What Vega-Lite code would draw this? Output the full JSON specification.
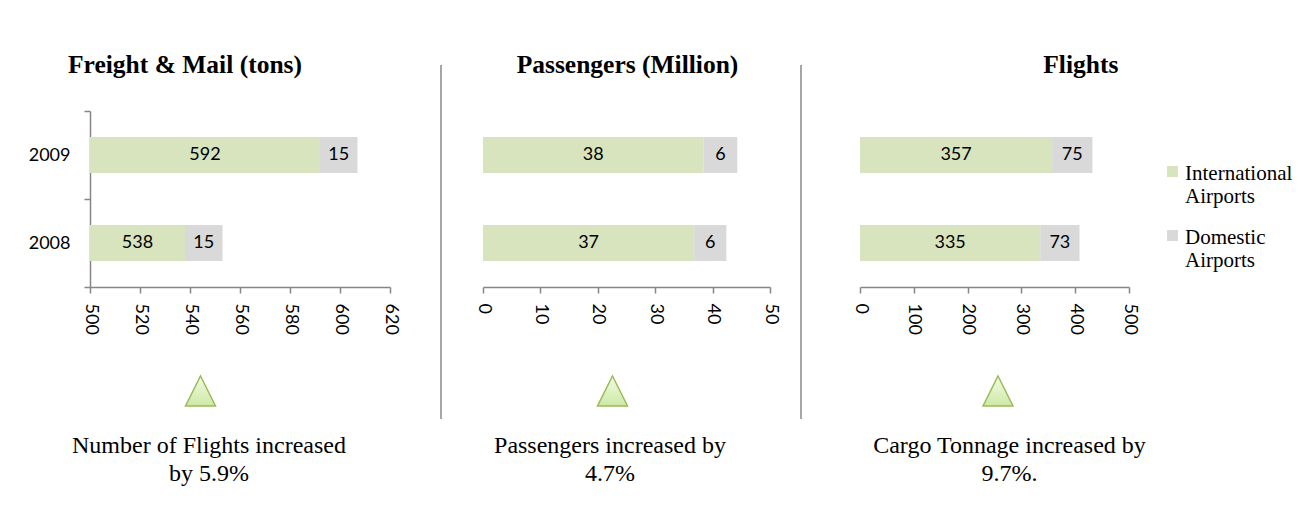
{
  "$schema": "https://vega.github.io/schema/vega-lite/v6.json",
  "background": "white",
  "padding": {"left": 28, "top": 53, "right": 5, "bottom": 5},
  "bounds": "full",
  "spacing": 21,
  "config": {
    "view": {"stroke": null},
    "axis": {
      "domainColor": "#868686",
      "tickColor": "#868686",
      "domainWidth": 1.5,
      "tickWidth": 1.5,
      "labelFont": "Lato",
      "labelFontSize": 18,
      "labelColor": "#000000",
      "grid": false,
      "title": null
    }
  },
  "datasets": {
    "freight": [
      {"year": "2009", "type": "International Airports", "value": 592},
      {"year": "2009", "type": "Domestic Airports", "value": 15},
      {"year": "2008", "type": "International Airports", "value": 538},
      {"year": "2008", "type": "Domestic Airports", "value": 15}
    ],
    "passengers": [
      {"year": "2009", "type": "International Airports", "value": 38.4},
      {"year": "2009", "type": "Domestic Airports", "value": 5.9},
      {"year": "2008", "type": "International Airports", "value": 36.8},
      {"year": "2008", "type": "Domestic Airports", "value": 5.6}
    ],
    "flights": [
      {"year": "2009", "type": "International Airports", "value": 357},
      {"year": "2009", "type": "Domestic Airports", "value": 75},
      {"year": "2008", "type": "International Airports", "value": 335},
      {"year": "2008", "type": "Domestic Airports", "value": 73}
    ]
  },
  "resolve": {"scale": {"x": "independent", "y": "independent", "color": "shared"}},
  "hconcat": [
    {
      "bounds": "flush",
      "spacing": 30,
      "vconcat": [
        {
          "width": 329,
          "height": 16,
          "data": {"values": [{"title": "Freight & Mail (tons)"}]},
          "mark": {"type": "text", "font": "Liberation Serif", "fontSize": 25.5, "fontWeight": "bold", "baseline": "alphabetic", "align": "center", "dx": -69.5, "color": "#000000"},
          "encoding": {"text": {"field": "title"}}
        },
        {
          "width": 300,
          "height": 176,
          "data": {"name": "freight"},
          "layer": [
            {
              "mark": {"type": "bar", "height": {"band": 0.41}},
              "encoding": {
                "y": {"field": "year", "type": "nominal", "scale": {"domain": ["2009", "2008"], "paddingInner": 0, "paddingOuter": 0}, "axis": {"title": null, "tickBand": "extent", "tickSize": 6, "labelPadding": 14}},
                "x": {"field": "value", "type": "quantitative", "stack": "zero", "scale": {"domain": [500, 620], "clamp": true, "nice": false, "zero": false}, "axis": {"title": null, "values": [500, 520, 540, 560, 580, 600, 620], "labelAngle": 90, "tickSize": 6, "labelPadding": 10}},
                "color": {"field": "type", "type": "nominal", "scale": {"domain": ["International Airports", "Domestic Airports"], "range": ["#d7e4bd", "#d9d9d9"]},
                  "legend": {"orient": "none", "legendX": 1072, "legendY": 104, "title": null, "padding": 0, "symbolType": "M-1,-2.45H1V-0.45H-1Z", "symbolSize": 121, "symbolStrokeWidth": 0, "symbolOpacity": 1, "labelFont": "Liberation Serif", "labelFontSize": 21, "labelColor": "#000000", "labelBaseline": "alphabetic", "labelOffset": 2, "labelLimit": 300, "rowPadding": 19,
                    "labelExpr": "datum.label == 'International Airports' ? ['\u2002International', 'Airports'] : ['\u2002Domestic', 'Airports']"}},
                "order": {"field": "type", "sort": "descending"}
              }
            },
            {
              "mark": {"type": "text", "font": "Lato", "fontSize": 18, "color": "#000000"},
              "encoding": {
                "y": {"field": "year", "type": "nominal"},
                "x": {"field": "value", "type": "quantitative", "stack": "zero", "bandPosition": 0.5, "scale": {"domain": [500, 620], "clamp": true, "nice": false, "zero": false}, "axis": null},
                "detail": {"field": "type"},
                "order": {"field": "type", "sort": "descending"},
                "text": {"condition": {"test": "datum.type == 'Domestic Airports'", "field": "value", "type": "quantitative", "format": ".0f"}, "value": ""}
              }
            },
            {
              "transform": [{"filter": "datum.type == 'International Airports'"}],
              "mark": {"type": "text", "font": "Lato", "fontSize": 18, "color": "#000000"},
              "encoding": {
                "y": {"field": "year", "type": "nominal"},
                "x": {"field": "value", "type": "quantitative", "stack": null, "scale": {"domain": [500, 620], "range": [0, 150], "nice": false, "zero": false}, "axis": null},
                "text": {"field": "value", "type": "quantitative", "format": ".0f"}
              }
            }
          ],
          "resolve": {"scale": {"x": "independent"}}
        },
        {
          "width": 221,
          "height": 148,
          "data": {"values": [{"caption": "Number of Flights increased\nby 5.9%"}]},
          "layer": [
            {
              "mark": {"type": "point", "shape": "M0,-1L1,1L-1,1Z", "size": 900, "filled": true, "opacity": 1,
                "fill": {"gradient": "linear", "x1": 0, "y1": 0, "x2": 0, "y2": 1, "stops": [{"offset": 0, "color": "#f2fbe6"}, {"offset": 1, "color": "#cde9a3"}]},
                "stroke": "#9bbb59", "strokeWidth": 1.5},
              "encoding": {}
            },
            {
              "mark": {"type": "text", "font": "Liberation Serif", "fontSize": 24, "lineBreak": "\n", "lineHeight": 28, "baseline": "alphabetic", "align": "center", "dy": 62, "dx": 8.5, "color": "#000000"},
              "encoding": {"text": {"field": "caption"}}
            }
          ]
        }
      ]
    },
    {
      "width": 12,
      "height": 354,
      "data": {"values": [{"sep": 1}]},
      "mark": {"type": "rule", "color": "#a6a6a6", "strokeWidth": 2},
      "encoding": {"x": {"datum": 0, "type": "quantitative", "scale": {"domain": [0, 1]}, "axis": null}}
    },
    {
      "bounds": "flush",
      "spacing": 30,
      "vconcat": [
        {
          "width": 287,
          "height": 16,
          "data": {"values": [{"title": "Passengers (Million)"}]},
          "mark": {"type": "text", "font": "Liberation Serif", "fontSize": 25.5, "fontWeight": "bold", "baseline": "alphabetic", "align": "center", "dx": 1, "color": "#000000"},
          "encoding": {"text": {"field": "title"}}
        },
        {
          "width": 287,
          "height": 176,
          "data": {"name": "passengers"},
          "layer": [
            {
              "mark": {"type": "bar", "height": {"band": 0.41}},
              "encoding": {
                "y": {"field": "year", "type": "nominal", "scale": {"domain": ["2009", "2008"], "paddingInner": 0, "paddingOuter": 0}, "axis": null},
                "x": {"field": "value", "type": "quantitative", "stack": "zero", "scale": {"domain": [0, 50], "nice": false}, "axis": {"title": null, "values": [0, 10, 20, 30, 40, 50], "labelAngle": 90, "tickSize": 6, "labelPadding": 10}},
                "color": {"field": "type", "type": "nominal", "scale": {"domain": ["International Airports", "Domestic Airports"], "range": ["#d7e4bd", "#d9d9d9"]}},
                "order": {"field": "type", "sort": "descending"}
              }
            },
            {
              "mark": {"type": "text", "font": "Lato", "fontSize": 18, "color": "#000000"},
              "encoding": {
                "y": {"field": "year", "type": "nominal"},
                "x": {"field": "value", "type": "quantitative", "stack": "zero", "bandPosition": 0.5},
                "detail": {"field": "type"},
                "order": {"field": "type", "sort": "descending"},
                "text": {"field": "value", "type": "quantitative", "format": ".0f"}
              }
            }
          ]
        },
        {
          "width": 259,
          "height": 148,
          "data": {"values": [{"caption": "Passengers increased by\n4.7%"}]},
          "layer": [
            {
              "mark": {"type": "point", "shape": "M0,-1L1,1L-1,1Z", "size": 900, "filled": true, "opacity": 1,
                "fill": {"gradient": "linear", "x1": 0, "y1": 0, "x2": 0, "y2": 1, "stops": [{"offset": 0, "color": "#f2fbe6"}, {"offset": 1, "color": "#cde9a3"}]},
                "stroke": "#9bbb59", "strokeWidth": 1.5},
              "encoding": {}
            },
            {
              "mark": {"type": "text", "font": "Liberation Serif", "fontSize": 24, "lineBreak": "\n", "lineHeight": 28, "baseline": "alphabetic", "align": "center", "dy": 62, "dx": -2.5, "color": "#000000"},
              "encoding": {"text": {"field": "caption"}}
            }
          ]
        }
      ]
    },
    {
      "width": 29,
      "height": 354,
      "data": {"values": [{"sep": 2}]},
      "mark": {"type": "rule", "color": "#a6a6a6", "strokeWidth": 2},
      "encoding": {"x": {"datum": 0, "type": "quantitative", "scale": {"domain": [0, 1]}, "axis": null}}
    },
    {
      "bounds": "flush",
      "spacing": 30,
      "vconcat": [
        {
          "width": 269,
          "height": 16,
          "data": {"values": [{"title": "Flights"}]},
          "mark": {"type": "text", "font": "Liberation Serif", "fontSize": 25.5, "fontWeight": "bold", "baseline": "alphabetic", "align": "center", "dx": 86.3, "color": "#000000"},
          "encoding": {"text": {"field": "title"}}
        },
        {
          "width": 269,
          "height": 176,
          "data": {"name": "flights"},
          "layer": [
            {
              "mark": {"type": "bar", "height": {"band": 0.41}},
              "encoding": {
                "y": {"field": "year", "type": "nominal", "scale": {"domain": ["2009", "2008"], "paddingInner": 0, "paddingOuter": 0}, "axis": null},
                "x": {"field": "value", "type": "quantitative", "stack": "zero", "scale": {"domain": [0, 500], "nice": false}, "axis": {"title": null, "values": [0, 100, 200, 300, 400, 500], "labelAngle": 90, "tickSize": 6, "labelPadding": 10}},
                "color": {"field": "type", "type": "nominal", "scale": {"domain": ["International Airports", "Domestic Airports"], "range": ["#d7e4bd", "#d9d9d9"]}},
                "order": {"field": "type", "sort": "descending"}
              }
            },
            {
              "mark": {"type": "text", "font": "Lato", "fontSize": 18, "color": "#000000"},
              "encoding": {
                "y": {"field": "year", "type": "nominal"},
                "x": {"field": "value", "type": "quantitative", "stack": "zero", "bandPosition": 0.5},
                "detail": {"field": "type"},
                "order": {"field": "type", "sort": "descending"},
                "text": {"field": "value", "type": "quantitative", "format": ".0f"}
              }
            }
          ]
        },
        {
          "width": 276,
          "height": 148,
          "data": {"values": [{"caption": "Cargo Tonnage increased by\n9.7%."}]},
          "layer": [
            {
              "mark": {"type": "point", "shape": "M0,-1L1,1L-1,1Z", "size": 900, "filled": true, "opacity": 1,
                "fill": {"gradient": "linear", "x1": 0, "y1": 0, "x2": 0, "y2": 1, "stops": [{"offset": 0, "color": "#f2fbe6"}, {"offset": 1, "color": "#cde9a3"}]},
                "stroke": "#9bbb59", "strokeWidth": 1.5},
              "encoding": {}
            },
            {
              "mark": {"type": "text", "font": "Liberation Serif", "fontSize": 24, "lineBreak": "\n", "lineHeight": 28, "baseline": "alphabetic", "align": "center", "dy": 62, "dx": 11.5, "color": "#000000"},
              "encoding": {"text": {"field": "caption"}}
            }
          ]
        }
      ]
    }
  ]
}
